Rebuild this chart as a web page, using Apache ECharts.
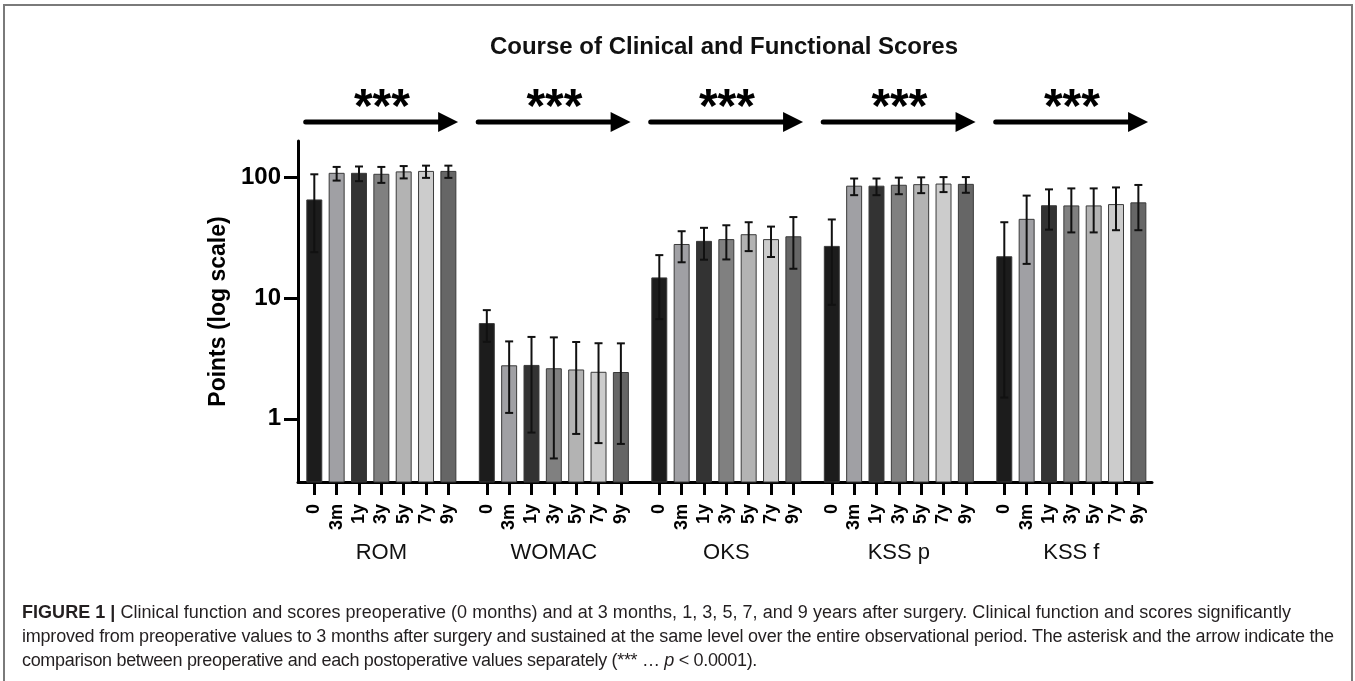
<!DOCTYPE html>
<html>
<head>
<meta charset="utf-8">
<script src="https://cdn.jsdelivr.net/npm/echarts@6/dist/echarts.min.js"></script>
<style>
html, body { margin: 0; padding: 0; background: #fff; }
#chart { position: absolute; left: 0; top: 0; width: 1355px; height: 681px; }
#frame { position: absolute; left: 3px; top: 4px; width: 1350px; height: 720px; border: 2px solid #7a7a7a; border-bottom: none; box-sizing: border-box; pointer-events: none; }
#caption { position: absolute; left: 22px; top: 600px; font-family: 'Liberation Sans', Arial, sans-serif; font-size: 18px; line-height: 24px; color: #231f20; white-space: nowrap; }
#caption .ln { display: block; width: max-content; }
</style>
</head>
<body>
<div id="chart"></div>
<div id="frame"></div>
<div id="caption"><span class="ln" data-w="1269"><b>FIGURE 1 |</b> Clinical function and scores preoperative (0 months) and at 3 months, 1, 3, 5, 7, and 9 years after surgery. Clinical function and scores significantly</span><span class="ln" data-w="1312">improved from preoperative values to 3 months after surgery and sustained at the same level over the entire observational period. The asterisk and the arrow indicate the</span><span class="ln" data-w="735">comparison between preoperative and each postoperative values separately (*** … <i>p</i> &lt; 0.0001).</span></div>
<script>
// ---- data ----
const groups = ['ROM', 'WOMAC', 'OKS', 'KSS p', 'KSS f'];
const timepoints = ['0', '3m', '1y', '3y', '5y', '7y', '9y'];
const romMean   = [65, 108, 108, 106, 111, 112, 112];
const romSD     = [41, 14, 15, 16, 13, 13, 13];
const womacMean = [6.15, 2.75, 2.77, 2.6, 2.54, 2.43, 2.42];
const womacSD   = [1.8, 1.63, 2.0, 2.13, 1.79, 1.8, 1.8];
const oksMean   = [14.7, 27.8, 29.5, 30.5, 33.5, 30.5, 32.2];
const oksSD     = [8, 8, 8.7, 9.6, 9, 8.6, 14.7];
const kssPMean  = [26.8, 84.5, 84.5, 86, 87, 88, 87.5];
const kssPSD    = [18, 13.3, 13.3, 13.5, 13, 12.5, 13];
const kssFMean  = [22, 44.9, 58.2, 58, 58, 59.5, 61.5];
const kssFSD    = [20.5, 25.7, 21.3, 23, 23, 23, 25];
const yTickValues = [1, 10, 100];
const significance = ['***', '***', '***', '***', '***'];
const yMin = 0.3, yMax = 200;

// ---- caption line fitting (letter spacing) ----
document.querySelectorAll('#caption .ln').forEach(el => {
  const target = +el.dataset.w;
  const natural = el.getBoundingClientRect().width;
  const n = el.textContent.length;
  el.style.letterSpacing = ((target - natural) / n).toFixed(3) + 'px';
});

// ---- layout / style ----
const means = [romMean, womacMean, oksMean, kssPMean, kssFMean];
const sds = [romSD, womacSD, oksSD, kssPSD, kssFSD];
const STRIDE = 7.72;       // category units between group starts
const BAR_HALF = 0.335;
const colors = ['#1c1c1c', '#a0a0a4', '#333333', '#808080', '#b3b3b3', '#cccccc', '#666666'];
const FONT = "'Liberation Sans', Arial, Helvetica, sans-serif";

const barData = [];
const tickPositions = [];
const tickLabels = [];
const groupCenters = [];
const arrowData = [];
groups.forEach((g, gi) => {
  timepoints.forEach((t, ti) => {
    const pos = gi * STRIDE + ti;
    barData.push([pos, means[gi][ti], sds[gi][ti], ti]);
    tickPositions.push(pos);
    tickLabels.push(t);
  });
  groupCenters.push(gi * STRIDE + (timepoints.length - 1) / 2);
  arrowData.push([gi * STRIDE, gi * STRIDE + timepoints.length - 1, yMax, gi]);
});

function renderBar(params, api) {
  const x = api.value(0), m = api.value(1), sd = api.value(2), ci = api.value(3);
  const cs = params.coordSys;
  const baseY = cs.y + cs.height;
  const p = api.coord([x, m]);
  const xl = api.coord([x - BAR_HALF, m])[0];
  const xr = api.coord([x + BAR_HALF, m])[0];
  const hiY = api.coord([x, m + sd])[1];
  const lo = m - sd;
  const loY = lo > yMin ? api.coord([x, lo])[1] : baseY;
  const cap = 4;
  const es = { stroke: '#111', lineWidth: 2 };
  const children = [
    { type: 'rect', shape: { x: xl, y: p[1], width: xr - xl, height: baseY - p[1] },
      style: { fill: colors[ci], stroke: '#3a3a3a', lineWidth: 1 } },
    { type: 'line', shape: { x1: p[0], y1: hiY, x2: p[0], y2: loY }, style: es },
    { type: 'line', shape: { x1: p[0] - cap, y1: hiY, x2: p[0] + cap, y2: hiY }, style: es }
  ];
  if (lo > yMin) {
    children.push({ type: 'line', shape: { x1: p[0] - cap, y1: loY, x2: p[0] + cap, y2: loY }, style: es });
  }
  return { type: 'group', children };
}

function renderArrow(params, api) {
  const s = api.value(0), e = api.value(1), gi = api.value(3);
  const cs = params.coordSys;
  const x1 = api.coord([s - BAR_HALF - 0.05, yMax])[0];
  const x2 = api.coord([e + BAR_HALF + 0.1, yMax])[0];
  const ay = cs.y - 19;
  const head = 20;
  const cx = (x1 + x2) / 2;
  return { type: 'group', children: [
    { type: 'line', shape: { x1: x1, y1: ay, x2: x2 - head + 2, y2: ay },
      style: { stroke: '#000', lineWidth: 5, lineCap: 'round' } },
    { type: 'polygon', shape: { points: [[x2, ay], [x2 - head, ay - 10], [x2 - head, ay + 10]] },
      style: { fill: '#000' } },
    { type: 'text', x: cx, y: cs.y - 32,
      style: { text: significance[gi], font: 'bold 48px ' + FONT, fill: '#000', align: 'center', verticalAlign: 'middle' } }
  ]};
}

const chart = echarts.init(document.getElementById('chart'), null, { renderer: 'canvas' });
chart.setOption({
  animation: false,
  backgroundColor: '#fff',
  title: {
    text: 'Course of Clinical and Functional Scores',
    left: 719, top: 30, textAlign: 'center',
    textStyle: { fontFamily: FONT, fontSize: 24, fontWeight: 'bold', color: '#111' }
  },
  grid: { left: 298, right: 203, top: 141, bottom: 199, containLabel: false },
  xAxis: [
    {
      type: 'value', min: -0.73, max: 37.49,
      axisLine: { show: true, onZero: false, lineStyle: { color: '#000', width: 3 } },
      axisTick: { show: true, customValues: tickPositions, length: 13, lineStyle: { color: '#000', width: 3 } },
      axisLabel: {
        show: true, customValues: tickPositions, rotate: 90, margin: 22,
        fontFamily: FONT, fontSize: 18, fontWeight: 'bold', color: '#000',
        formatter: v => { const k = tickPositions.findIndex(p => Math.abs(p - v) < 1e-3); return k >= 0 ? tickLabels[k] : ''; }
      },
      splitLine: { show: false }
    },
    {
      type: 'value', min: -0.73, max: 37.49, position: 'bottom', offset: 54,
      axisLine: { show: false }, axisTick: { show: false },
      axisLabel: {
        show: true, customValues: groupCenters, margin: 6,
        fontFamily: FONT, fontSize: 22, color: '#111',
        formatter: v => { const k = groupCenters.findIndex(p => Math.abs(p - v) < 1e-3); return k >= 0 ? groups[k] : ''; }
      },
      splitLine: { show: false }
    }
  ],
  yAxis: {
    type: 'log', logBase: 10, min: yMin, max: yMax,
    name: 'Points (log scale)', nameLocation: 'middle', nameGap: 64,
    nameTextStyle: { fontFamily: FONT, fontSize: 23, fontWeight: 'bold', color: '#000' },
    axisLine: { show: true, onZero: false, lineStyle: { color: '#000', width: 3 } },
    axisTick: { show: true, customValues: yTickValues, length: 14, lineStyle: { color: '#000', width: 3 } },
    axisLabel: {
      show: true, customValues: yTickValues, margin: 17,
      fontFamily: FONT, fontSize: 24, fontWeight: 'bold', color: '#000',
      formatter: v => String(Math.round(v))
    },
    splitLine: { show: false }, minorTick: { show: false }, minorSplitLine: { show: false }
  },
  series: [
    {
      type: 'custom', name: 'scores', xAxisIndex: 0, yAxisIndex: 0,
      renderItem: renderBar, data: barData, encode: { x: 0, y: 1 }, clip: false
    },
    {
      type: 'custom', name: 'significance', xAxisIndex: 0, yAxisIndex: 0,
      renderItem: renderArrow, data: arrowData, encode: { x: [0, 1], y: 2 }, clip: false
    }
  ]
});
</script>
</body>
</html>
